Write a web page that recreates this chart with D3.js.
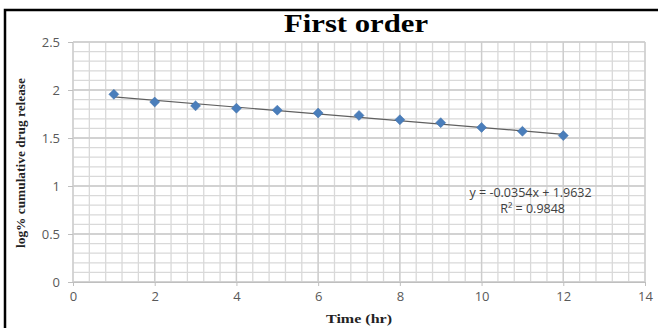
<!DOCTYPE html>
<html>
<head>
<meta charset="utf-8">
<script src="https://cdn.jsdelivr.net/npm/d3@7"></script>
<style>
  body { margin: 0; background: #fff; }
  svg { display: block; }
  .tick text { font-family: 'Open Sans', 'Liberation Sans', sans-serif; font-size: 13px; fill: #595959; }
</style>
</head>
<body>
<div id="chart"></div>
<script>
// data
const hours = [1, 2, 3, 4, 5, 6, 7, 8, 9, 10, 11, 12]
const logRelease = [1.955, 1.875, 1.835, 1.81, 1.79, 1.76, 1.735, 1.69, 1.66, 1.61, 1.57, 1.525]
const xTicks = [0, 2, 4, 6, 8, 10, 12, 14]
const yTicks = [0, 0.5, 1, 1.5, 2, 2.5]
const trend = { slope: -0.0354, intercept: 1.9632, r2: 0.9848 }
const trendRange = [1, 12]

const W = 658, H = 328
const margin = { left: 73, right: 13, top: 42, bottom: 46 }
const width = W - margin.left - margin.right
const height = H - margin.top - margin.bottom

const svg = d3.select('#chart').append('svg')
  .attr('width', W)
  .attr('height', H)

// outer frame (top + left only)
svg.append('path')
  .attr('d', 'M5,' + H + 'V10H' + W)
  .attr('fill', 'none')
  .attr('stroke', '#000')
  .attr('stroke-width', 2.5)

const chart = svg.append('g')
  .attr('transform', 'translate(' + margin.left + ',' + margin.top + ')')

const x = d3.scaleLinear().domain([0, 14]).range([0, width])
const y = d3.scaleLinear().domain([0, 2.5]).range([height, 0])

// minor grid
chart.append('g')
  .selectAll('line')
  .data(d3.range(0, 14.001, 0.4))
  .enter().append('line')
    .attr('x1', d => x(d)).attr('x2', d => x(d))
    .attr('y1', 0).attr('y2', height)
    .attr('stroke', '#d9d9d9')
    .attr('stroke-width', 1.3)
chart.append('g')
  .selectAll('line')
  .data(d3.range(0, 2.5001, 0.1))
  .enter().append('line')
    .attr('y1', d => y(d)).attr('y2', d => y(d))
    .attr('x1', 0).attr('x2', width)
    .attr('stroke', '#d9d9d9')
    .attr('stroke-width', 1.3)

// major grid
chart.append('g')
  .selectAll('line')
  .data(xTicks)
  .enter().append('line')
    .attr('x1', d => x(d)).attr('x2', d => x(d))
    .attr('y1', 0).attr('y2', height)
    .attr('stroke', '#cdcdcd')
    .attr('stroke-width', 1.3)
chart.append('g')
  .selectAll('line')
  .data(yTicks)
  .enter().append('line')
    .attr('y1', d => y(d)).attr('y2', d => y(d))
    .attr('x1', 0).attr('x2', width)
    .attr('stroke', '#cdcdcd')
    .attr('stroke-width', 1.3)

// axes
const xAxis = chart.append('g')
  .attr('transform', 'translate(0,' + height + ')')
  .call(d3.axisBottom(x).tickValues(xTicks).tickSize(4).tickPadding(6).tickFormat(d3.format('d')))
xAxis.select('.domain').attr('stroke', '#bfbfbf')
xAxis.selectAll('.tick line').attr('stroke', '#bfbfbf')

const yAxis = chart.append('g')
  .call(d3.axisLeft(y).tickValues(yTicks).tickSize(5).tickPadding(8).tickFormat(d => d))
yAxis.select('.domain').remove()
yAxis.selectAll('.tick line').attr('stroke', '#bfbfbf')

// trendline
chart.append('line')
  .attr('x1', x(trendRange[0]))
  .attr('y1', y(trend.intercept + trend.slope * trendRange[0]))
  .attr('x2', x(trendRange[1]))
  .attr('y2', y(trend.intercept + trend.slope * trendRange[1]))
  .attr('stroke', '#5f5f5f')
  .attr('stroke-width', 1.2)

// markers
chart.selectAll('.pt')
  .data(hours.map((h, i) => ({ h, v: logRelease[i] })))
  .enter().append('path')
    .attr('class', 'pt')
    .attr('d', d3.symbol().type(d3.symbolDiamond2).size(64))
    .attr('transform', d => 'translate(' + x(d.h) + ',' + y(d.v) + ')')
    .attr('fill', '#4a7ebb')
    .attr('stroke', '#3f6fa8')
    .attr('stroke-width', 0.5)

// equation
const eq = chart.append('text')
  .attr('font-family', "'Open Sans', 'Liberation Sans', sans-serif")
  .attr('font-size', 12.5)
  .attr('fill', '#404040')
  .attr('text-anchor', 'middle')
eq.append('tspan')
  .attr('x', x(11.2)).attr('y', y(0.89))
  .text('y = ' + trend.slope + 'x + ' + trend.intercept)
eq.append('tspan')
  .attr('x', x(11.25)).attr('y', y(0.72))
  .text('R² = ' + trend.r2)

// title and axis titles
svg.append('text')
  .attr('x', 356).attr('y', 32)
  .attr('text-anchor', 'middle')
  .attr('font-family', "'Liberation Serif', serif")
  .attr('font-weight', 'bold')
  .attr('font-size', 25)
  .attr('textLength', 144)
  .attr('lengthAdjust', 'spacingAndGlyphs')
  .attr('fill', '#000')
  .text('First order')

svg.append('text')
  .attr('x', 359).attr('y', 323)
  .attr('text-anchor', 'middle')
  .attr('font-family', "'Liberation Serif', serif")
  .attr('font-weight', 'bold')
  .attr('font-size', 13)
  .attr('textLength', 66)
  .attr('lengthAdjust', 'spacingAndGlyphs')
  .attr('fill', '#222')
  .text('Time (hr)')

svg.append('text')
  .attr('transform', 'translate(25,163) rotate(-90)')
  .attr('text-anchor', 'middle')
  .attr('font-family', "'Liberation Serif', serif")
  .attr('font-weight', 'bold')
  .attr('font-size', 13)
  .attr('textLength', 170)
  .attr('lengthAdjust', 'spacingAndGlyphs')
  .attr('fill', '#222')
  .text('log% cumulative drug release')
</script>
</body>
</html>
